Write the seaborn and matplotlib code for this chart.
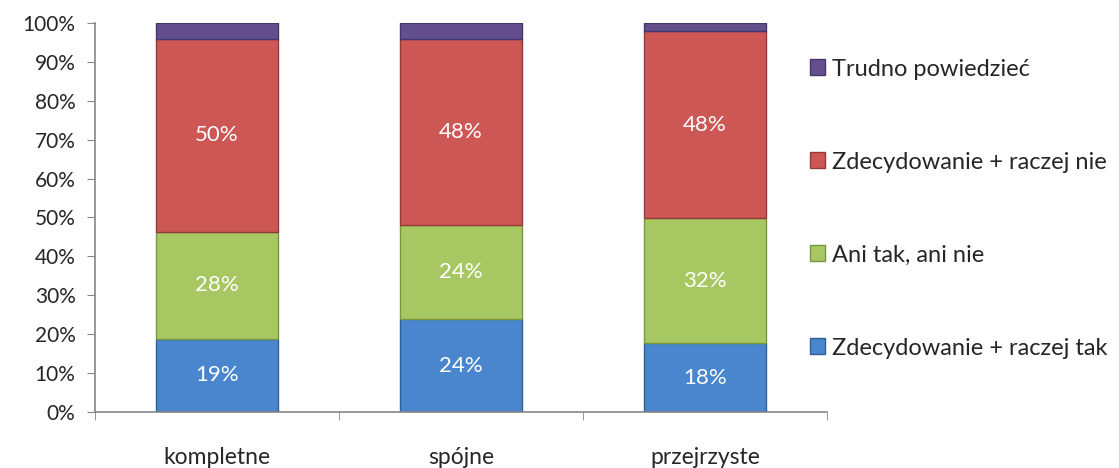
import seaborn as sns
import matplotlib.pyplot as plt
import pandas as pd
from matplotlib.ticker import PercentFormatter, FixedLocator

# data (100% stacked)
categories = ["kompletne", "spójne", "przejrzyste"]
tak = [18.8, 23.8, 17.7]
ani = [27.5, 24.2, 32.1]
nie = [49.6, 47.8, 48.2]
trudno = [4.1, 4.2, 2.0]

series = ["Zdecydowanie + raczej tak", "Ani tak, ani nie",
          "Zdecydowanie + raczej nie", "Trudno powiedzieć"]
values = [tak, ani, nie, trudno]
colors = ["#4A86CE", "#A7C762", "#CD5755", "#634F8E"]
edges = ["#2F5F98", "#7A9440", "#93393A", "#45366A"]

sns.set_style("white")
plt.rcParams["font.family"] = ["Lato", "DejaVu Sans"]

fig = plt.figure(figsize=(11.19, 4.68), dpi=100)
ax = fig.add_axes([0.0849, 0.1197, 0.654, 0.8312])

bottom = [0, 0, 0]
for name, vals, col, ec in zip(series, values, colors, edges):
    df = pd.DataFrame({"cat": categories, "val": vals})
    sns.barplot(data=df, x="cat", y="val", color=col, bottom=bottom,
                width=0.5, edgecolor=ec, linewidth=1, label=name, ax=ax,
                saturation=1)
    if name != "Trudno powiedzieć":
        for i, v in enumerate(vals):
            ax.text(i, bottom[i] + v / 2, f"{round(v)}%", ha="center",
                    va="center", color="white", fontsize=16)
    bottom = [b + v for b, v in zip(bottom, vals)]

ax.set_ylim(0, 100)
ax.set_xlim(-0.5, 2.5)
ax.yaxis.set_major_locator(FixedLocator(range(0, 101, 10)))
ax.yaxis.set_major_formatter(PercentFormatter(decimals=0))
ax.set_xlabel("")
ax.set_ylabel("")

for s in ["top", "right"]:
    ax.spines[s].set_visible(False)
for s in ["left", "bottom"]:
    ax.spines[s].set_color("#868686")
    ax.spines[s].set_linewidth(1.2)

ax.tick_params(axis="y", which="major", length=6, color="#868686",
               labelsize=15, left=True, pad=8)
ax.tick_params(axis="x", which="major", length=0, labelsize=16.5, pad=25)
ax.set_xticks([-0.5, 0.5, 1.5, 2.5], minor=True)
ax.tick_params(axis="x", which="minor", length=6, color="#868686",
               bottom=True, direction="out")

handles, labels = ax.get_legend_handles_labels()
leg = ax.legend(handles[::-1], labels[::-1], loc="center left",
                bbox_to_anchor=(0.964, 0.523), frameon=False, fontsize=17,
                handlelength=0.64, handleheight=0.64, handletextpad=0.3,
                labelspacing=3.05, borderaxespad=0)

fig.savefig("out.png", dpi=100)
